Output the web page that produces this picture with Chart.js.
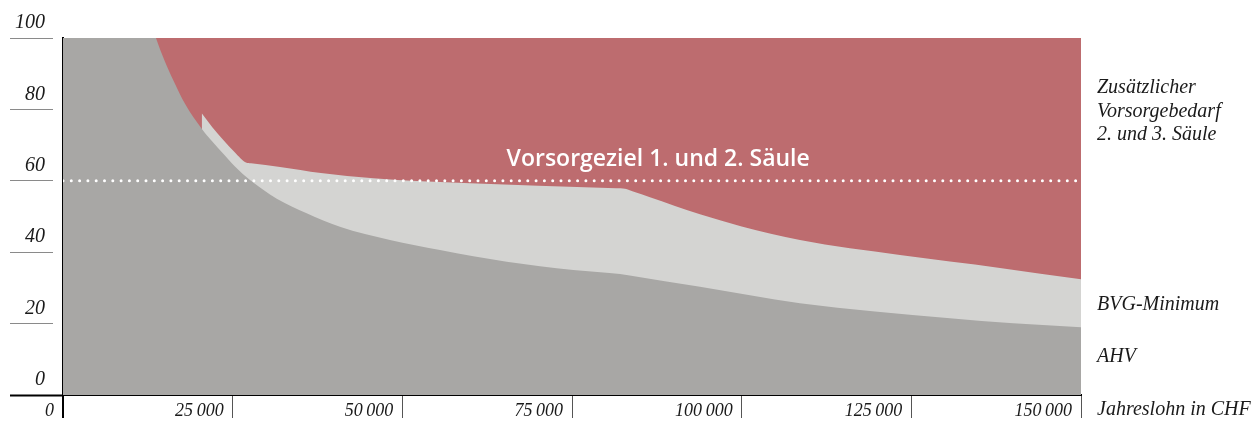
<!DOCTYPE html>
<html lang="de">
<head>
<meta charset="utf-8">
<title>Vorsorgeziel 1. und 2. Säule</title>
<script src="https://cdn.jsdelivr.net/npm/chart.js@4.4.1/dist/chart.umd.min.js"></script>
<style>
    html, body { margin: 0; padding: 0; background: #fff; }
    #wrap { width: 1258px; height: 421px; position: relative; }
</style>
</head>
<body>
<div id="wrap"><canvas id="vorsorgeChart"></canvas></div>
<script>
// Jahreslohn in CHF / Leistung in % des Lohns
const ahvLohn = [0, 10000, 12000, 13700, 15000, 16250, 18000, 20440, 22000, 23620, 25340, 27550, 29500, 31500, 35900, 40800, 48180, 55550, 65380, 75190, 80500, 82070, 83500, 93860, 108590, 130690, 140000, 150000];
const ahvQuote = [160, 125, 111, 100, 93.5, 88.2, 81.5, 74.6, 71.0, 67.6, 64.0, 60.2, 57.5, 55.0, 50.9, 47.1, 43.4, 40.6, 37.3, 35.0, 34.2, 33.9, 33.5, 30.3, 25.7, 21.5, 20.1, 19.0];

// AHV + BVG-Minimum (Oberkante hellgrau); die Fläche beginnt mit senkrechter Kante
const bvgLohn = [20440, 22000, 23620, 25340, 26960, 27700, 31980, 38000, 45720, 60000, 70000, 81500, 82810, 84000, 86490, 93860, 100000, 108590, 123320, 138060, 150000];
const bvgQuote = [78.9, 75.0, 71.4, 67.9, 65.1, 64.9, 63.9, 62.2, 60.7, 59.3, 58.6, 57.9, 57.8, 57.0, 55.4, 50.6, 47.2, 43.4, 39.2, 35.6, 32.4];

const zielLohn = [0, 150000];
const zielQuote = [60, 60];
const bedarfLohn = [0, 150000];
const bedarfQuote = [100, 100];

const yTicks = [0, 20, 40, 60, 80, 100];
const xTicks = [0, 25000, 50000, 75000, 100000, 125000, 150000];

const zielText = 'Vorsorgeziel 1. und 2. Säule';
const bedarfText = ['Zusätzlicher', 'Vorsorgebedarf', '2. und 3. Säule'];
const bvgText = 'BVG-Minimum';
const ahvText = 'AHV';
const achsenText = 'Jahreslohn in CHF';

function toPoints(xs, ys) {
    return xs.map((v, i) => ({ x: v, y: ys[i] }));
}

function formatLohn(value) {
    return String(value).replace(/\B(?=(\d{3})+(?!\d))/g, '\u2009');
}

const serif = '"Liberation Serif", "DejaVu Serif", serif';

// Beschriftungen im und neben dem Diagramm
const beschriftung = {
    id: 'beschriftung',
    afterDraw(chart) {
        const { ctx, chartArea, scales } = chart;
        const x = scales.x;
        const y = scales.y;
        ctx.save();

        ctx.fillStyle = '#ffffff';
        ctx.font = '600 23px "Open Sans", sans-serif';
        ctx.textAlign = 'center';
        ctx.textBaseline = 'alphabetic';
        ctx.fillText(zielText, x.getPixelForValue(87700), y.getPixelForValue(64.1));

        ctx.fillStyle = '#1a1a1a';
        ctx.font = 'italic 20px ' + serif;
        ctx.textAlign = 'left';
        ctx.textBaseline = 'middle';
        const lx = chartArea.right + 16;
        const top = y.getPixelForValue(86);
        bedarfText.forEach((line, i) => {
            ctx.fillText(line, lx, top + i * 23.5);
        });
        ctx.fillText(bvgText, lx, y.getPixelForValue(25.2));
        ctx.fillText(ahvText, lx, y.getPixelForValue(10.6));
        ctx.fillText(achsenText, lx, chartArea.bottom + 15);
        ctx.restore();
    }
};

const ctx = document.getElementById('vorsorgeChart').getContext('2d');

new Chart(ctx, {
    type: 'line',
    data: {
        datasets: [
            {
                label: 'Vorsorgeziel',
                data: toPoints(zielLohn, zielQuote),
                borderColor: '#ffffff',
                borderWidth: 3,
                borderDash: [0, 8.3],
                borderCapStyle: 'round',
                pointRadius: 0,
                fill: false
            },
            {
                label: 'AHV',
                data: toPoints(ahvLohn, ahvQuote),
                borderWidth: 0,
                backgroundColor: '#a8a7a5',
                pointRadius: 0,
                cubicInterpolationMode: 'monotone',
                fill: 'origin'
            },
            {
                label: 'BVG-Minimum',
                data: toPoints(bvgLohn, bvgQuote),
                borderWidth: 0,
                backgroundColor: '#d4d4d2',
                pointRadius: 0,
                cubicInterpolationMode: 'monotone',
                fill: 'origin'
            },
            {
                label: 'Zusätzlicher Vorsorgebedarf',
                data: toPoints(bedarfLohn, bedarfQuote),
                borderWidth: 0,
                backgroundColor: '#bd6c6f',
                pointRadius: 0,
                fill: 'origin'
            }
        ]
    },
    options: {
        responsive: true,
        maintainAspectRatio: false,
        animation: false,
        layout: {
            padding: { left: 0, right: 177, top: 38, bottom: 0 }
        },
        scales: {
            x: {
                type: 'linear',
                min: 0,
                max: 150000,
                afterFit: scale => { scale.height = 26; },
                afterBuildTicks: scale => { scale.ticks = xTicks.map(v => ({ value: v })); },
                border: { color: '#000', width: 2 },
                grid: {
                    drawOnChartArea: false,
                    tickLength: 23,
                    color: c => c.index === 0 ? '#000' : '#555',
                    lineWidth: c => c.index === 0 ? 2 : 1
                },
                ticks: {
                    align: 'end',
                    labelOffset: -9,
                    padding: -18,
                    maxRotation: 0,
                    color: '#1a1a1a',
                    font: { family: serif, size: 18, style: 'italic' },
                    callback: value => formatLohn(value)
                }
            },
            y: {
                min: 0,
                max: 100,
                afterFit: scale => { scale.width = 63; },
                afterBuildTicks: scale => { scale.ticks = yTicks.map(v => ({ value: v })); },
                border: { color: '#000', width: 2 },
                grid: {
                    drawOnChartArea: false,
                    tickLength: 53,
                    tickColor: c => c.tick && c.tick.value === 0 ? '#000' : '#8a8a8a',
                    tickWidth: c => c.tick && c.tick.value === 0 ? 2 : 1,
                    tickBorderDash: c => c.tick && c.tick.value === 0 ? [] : [43, 30]
                },
                ticks: {
                    padding: -35,
                    labelOffset: -15,
                    color: '#1a1a1a',
                    font: { family: serif, size: 20, style: 'italic' }
                }
            }
        },
        plugins: {
            legend: { display: false },
            tooltip: { enabled: false }
        }
    },
    plugins: [beschriftung]
});
</script>
</body>
</html>
